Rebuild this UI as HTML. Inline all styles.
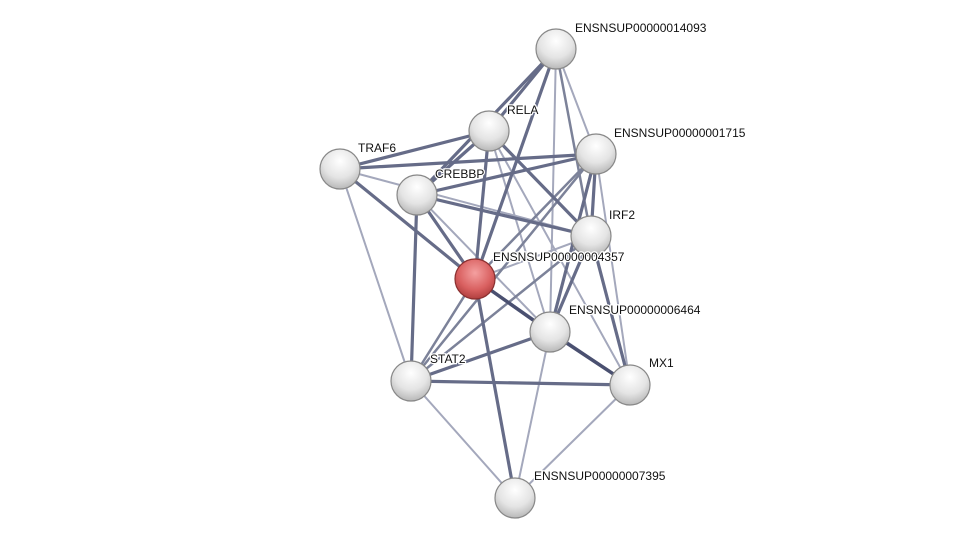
<!DOCTYPE html>
<html><head><meta charset="utf-8"><style>
html,body{margin:0;padding:0;background:#fff;width:975px;height:543px;overflow:hidden}
text{font-family:"Liberation Sans",sans-serif;font-size:12px;fill:#111;paint-order:stroke;stroke:#fff;stroke-width:2.5px}
</style></head><body>
<svg width="975" height="543" viewBox="0 0 975 543" xmlns="http://www.w3.org/2000/svg">
<defs>
<radialGradient id="g" cx="50%" cy="30%" r="70%">
<stop offset="0" stop-color="#ffffff"/><stop offset="0.6" stop-color="#e4e4e4"/><stop offset="1" stop-color="#b8b8b8"/></radialGradient>
<radialGradient id="r" cx="50%" cy="35%" r="70%">
<stop offset="0" stop-color="#f4a0a0"/><stop offset="0.6" stop-color="#d96060"/><stop offset="1" stop-color="#a83838"/></radialGradient>
</defs>
<g stroke-linecap="round">
<g stroke="#a4a8bc" stroke-width="2">
<line x1="556" y1="49" x2="596" y2="154"/>
<line x1="556" y1="49" x2="550" y2="332"/>
<line x1="489" y1="131" x2="550" y2="332"/>
<line x1="489" y1="131" x2="630" y2="385"/>
<line x1="340" y1="169" x2="591" y2="236"/>
<line x1="340" y1="169" x2="411" y2="381"/>
<line x1="417" y1="195" x2="550" y2="332"/>
<line x1="596" y1="154" x2="630" y2="385"/>
<line x1="475" y1="279" x2="630" y2="385"/>
<line x1="550" y1="332" x2="515" y2="498"/>
<line x1="411" y1="381" x2="515" y2="498"/>
<line x1="630" y1="385" x2="515" y2="498"/>
<line x1="591" y1="236" x2="475" y2="279"/>
</g>
<g stroke="#7c8299" stroke-width="2.5">
<line x1="556" y1="49" x2="591" y2="236"/>
<line x1="591" y1="236" x2="411" y2="381"/>
<line x1="596" y1="154" x2="411" y2="381"/>
<line x1="475" y1="279" x2="411" y2="381"/>
<line x1="596" y1="154" x2="475" y2="279"/>
</g>
<g stroke="#666c88" stroke-width="3.2">
<line x1="556" y1="49" x2="489" y2="131"/>
<line x1="556" y1="49" x2="417" y2="195"/>
<line x1="556" y1="49" x2="475" y2="279"/>
<line x1="489" y1="131" x2="340" y2="169"/>
<line x1="489" y1="131" x2="417" y2="195"/>
<line x1="489" y1="131" x2="475" y2="279"/>
<line x1="489" y1="131" x2="591" y2="236"/>
<line x1="340" y1="169" x2="596" y2="154"/>
<line x1="340" y1="169" x2="475" y2="279"/>
<line x1="417" y1="195" x2="596" y2="154"/>
<line x1="417" y1="195" x2="591" y2="236"/>
<line x1="417" y1="195" x2="475" y2="279"/>
<line x1="417" y1="195" x2="411" y2="381"/>
<line x1="596" y1="154" x2="591" y2="236"/>
<line x1="596" y1="154" x2="550" y2="332"/>
<line x1="591" y1="236" x2="550" y2="332"/>
<line x1="591" y1="236" x2="630" y2="385"/>
<line x1="475" y1="279" x2="515" y2="498"/>
<line x1="550" y1="332" x2="411" y2="381"/>
<line x1="411" y1="381" x2="630" y2="385"/>
</g>
<g stroke="#4a5070" stroke-width="3.5">
<line x1="475" y1="279" x2="550" y2="332"/>
<line x1="550" y1="332" x2="630" y2="385"/>
</g>
</g>
<g stroke="#888" stroke-width="1.2" fill="url(#g)">
<circle cx="556" cy="49" r="20"/>
<circle cx="489" cy="131" r="20"/>
<circle cx="596" cy="154" r="20"/>
<circle cx="340" cy="169" r="20"/>
<circle cx="417" cy="195" r="20"/>
<circle cx="591" cy="236" r="20"/>
<circle cx="550" cy="332" r="20"/>
<circle cx="411" cy="381" r="20"/>
<circle cx="630" cy="385" r="20"/>
<circle cx="515" cy="498" r="20"/>
<circle cx="475" cy="279" r="20" fill="url(#r)" stroke="#8a3030"/>
</g>
<text x="575" y="32">ENSNSUP00000014093</text>
<text x="507" y="114">RELA</text>
<text x="614" y="137">ENSNSUP00000001715</text>
<text x="358" y="152">TRAF6</text>
<text x="435" y="178">CREBBP</text>
<text x="609" y="219">IRF2</text>
<text x="493" y="261">ENSNSUP00000004357</text>
<text x="569" y="314">ENSNSUP00000006464</text>
<text x="430" y="363">STAT2</text>
<text x="649" y="367">MX1</text>
<text x="534" y="480">ENSNSUP00000007395</text>
</svg>
</body></html>
